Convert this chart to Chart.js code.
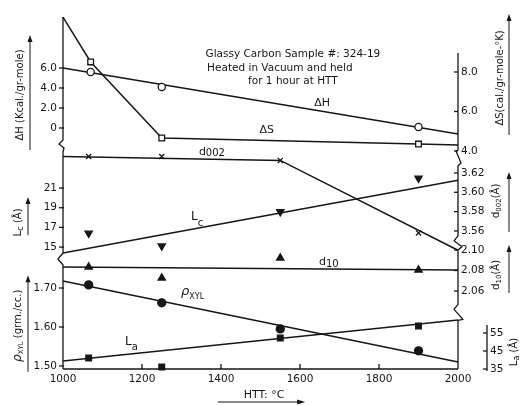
<!DOCTYPE html>
<html>
<head>
<meta charset="utf-8">
<script src="https://cdn.jsdelivr.net/npm/chart.js@4"></script>
<style>
  html, body { margin: 0; padding: 0; background: #fff; }
</style>
</head>
<body>
<canvas id="myChart" width="520" height="406"></canvas>
<script>
// heat treatment temperatures (deg C)
const htt = [1065, 1250, 1550, 1900];
const httTop = [1070, 1250, 1900];
const fitX = [1000, 2000];

// top panel: enthalpy / entropy
const dH = [5.6, 4.1, 0.1];
const dHFit = [6.0, -0.6];
const dS = [8.51, 4.66, 4.35];
const dSLineX = [1000, 1070, 1250, 1900, 2000];
const dSLine = [10.78, 8.51, 4.66, 4.35, 4.30];

// middle panel: interlayer spacing and crystallite height
const d002 = [3.637, 3.637, 3.633, 3.558];
const d002LineX = [1000, 1550, 2000];
const d002Line = [3.637, 3.633, 3.540];
const lc = [16.4, 15.1, 18.6, 22.0];
const lcFit = [14.4, 21.8];
const d10 = [2.0834, 2.0727, 2.0922, 2.0805];
const d10Fit = [2.0834, 2.0805];

// bottom panel: x-ray density and crystallite width
const rho = [1.708, 1.662, 1.595, 1.539];
const rhoFit = [1.718, 1.510];
const la = [41.1, 36.1, 52.2, 58.9];
const laFit = [39.4, 62.2];

// tick labels
const httTicks = [1000, 1200, 1400, 1600, 1800, 2000];
const dHTicks = [0, 2, 4, 6];
const dSTicks = [4, 6, 8];
const d002Ticks = [3.56, 3.58, 3.60, 3.62];
const lcTicks = [15, 17, 19, 21];
const d10Ticks = [2.06, 2.08, 2.10];
const rhoTicks = [1.50, 1.60, 1.70];
const laTicks = [35, 45, 55];

// each quantity gets its own full-height axis, min/max place it in its band
const ranges = {
  yDH: [-24.1, 11.3],
  yDS: [-7.04, 10.886],
  yD002: [3.4172, 3.7834],
  yLc: [2.6, 38.6],
  yD10: [1.9839, 2.3293],
  yRho: [1.4923, 2.4],
  yLa: [35, 231.7]
};

const ink = '#161616';
const fam = '"DejaVu Sans", sans-serif';

function pts(xs, ys) {
  return xs.map((x, i) => ({ x: x, y: ys[i] }));
}

// ticks of one band expressed on a shared 0..1 axis
function fracTicks(id, vals, fmt) {
  const lo = ranges[id][0], hi = ranges[id][1];
  return vals.map(v => ({ value: (v - lo) / (hi - lo), lbl: fmt(v) }));
}
const leftTicks = [].concat(
  fracTicks('yDH', dHTicks, v => v === 0 ? '0' : v.toFixed(1)),
  fracTicks('yLc', lcTicks, v => String(v)),
  fracTicks('yRho', rhoTicks, v => v.toFixed(2))
).sort((a, b) => a.value - b.value);
const rightTicks = [].concat(
  fracTicks('yDS', dSTicks, v => v.toFixed(1)),
  fracTicks('yD002', d002Ticks, v => v.toFixed(2)),
  fracTicks('yD10', d10Ticks, v => v.toFixed(2))
).sort((a, b) => a.value - b.value);

function lineSet(xs, ys, axis) {
  return { data: pts(xs, ys), yAxisID: axis, showLine: true, pointRadius: 0,
    borderColor: ink, borderWidth: 1.5, order: 2, clip: 8 };
}
function markSet(xs, ys, axis, style, fill, extra) {
  return Object.assign({ data: pts(xs, ys), yAxisID: axis, showLine: false,
    pointStyle: style, pointRadius: 3.6, pointBackgroundColor: fill,
    pointBorderColor: ink, pointBorderWidth: 1.3, order: 1, clip: 8 }, extra || {});
}
function hidden(id) {
  return { type: 'linear', display: false, min: ranges[id][0], max: ranges[id][1] };
}

function rich(ctx, parts, x, y, align) {
  let w = 0;
  parts.forEach(p => { ctx.font = (p[3] || '') + ' ' + p[1] + 'px ' + fam; w += ctx.measureText(p[0]).width; });
  let cx = align === 'center' ? x - w / 2 : x;
  parts.forEach(p => {
    ctx.font = (p[3] || '') + ' ' + p[1] + 'px ' + fam;
    ctx.fillText(p[0], cx, y + (p[2] || 0));
    cx += ctx.measureText(p[0]).width;
  });
}

const decor = {
  id: 'decor',
  afterDraw(chart) {
    const { ctx, chartArea: a, scales: s } = chart;
    const X = v => s.x.getPixelForValue(v);
    const P = (id, v) => s[id].getPixelForValue(v);
    const L = a.left, R = a.right;
    ctx.save();
    ctx.strokeStyle = ink;
    ctx.fillStyle = ink;
    ctx.lineWidth = 1.3;
    ctx.lineJoin = 'round';
    const poly = list => {
      ctx.beginPath();
      list.forEach((p, i) => i ? ctx.lineTo(p[0], p[1]) : ctx.moveTo(p[0], p[1]));
      ctx.stroke();
    };

    // left axis, broken twice
    const b1 = P('yDH', -1.2), b2 = P('yLc', 14.4);
    poly([[L, a.top + 2], [L, b1], [L - 4, b1 + 4], [L + 1, b1 + 8], [L, b1 + 12],
      [L, b2], [L - 5, b2 + 6], [L, b2 + 12], [L, a.bottom]]);
    // right axis pieces
    const r1 = P('yDS', 8.96), r2 = P('yDS', 4.05), r3 = P('yD002', 3.555),
      r4 = P('yD10', 2.10), r5 = P('yD10', 2.047);
    poly([[R, r1], [R, r2], [R - 2, r2 + 1], [R + 3, r2 + 13], [R, r2 + 16], [R, r3],
      [R - 4, r3 + 5], [R + 4, r3 + 11], [R, r4], [R, r5], [R - 4, r5 + 5],
      [R + 5, r5 + 15], [R, r5 + 16], [R, a.bottom]]);
    // La axis
    const lx = s.yLa.left;
    poly([[lx, P('yLa', 59.5)], [lx, a.bottom + 2]]);
    // x axis
    poly([[L, a.bottom], [R, a.bottom]]);

    // tick marks
    leftTicks.forEach(t => { const y = s.yL.getPixelForValue(t.value); poly([[L - 4, y], [L + 1, y]]); });
    rightTicks.forEach(t => { const y = s.yR.getPixelForValue(t.value); poly([[R - 4, y], [R, y]]); });
    laTicks.forEach(v => { const y = P('yLa', v); poly([[lx - 4, y], [lx, y]]); });
    httTicks.slice(1, -1).forEach(v => { const x = X(v); poly([[x, a.bottom], [x, a.bottom - 5]]); });

    ctx.textBaseline = 'middle';
    ctx.lineWidth = 1;
    const vTitle = (parts, x, y) => {
      ctx.save(); ctx.translate(x, y); ctx.rotate(-Math.PI / 2);
      rich(ctx, parts, 0, 0, 'center'); ctx.restore();
    };
    const shaft = (x, y1, y2) => {
      poly([[x, y1 + 4], [x, y2]]);
      ctx.beginPath(); ctx.moveTo(x, y1); ctx.lineTo(x - 2.5, y1 + 7); ctx.lineTo(x + 2.5, y1 + 7);
      ctx.closePath(); ctx.fill();
    };

    // axis titles, left
    vTitle([['\u0394H (Kcal./gr-mole)', 10]], L - 43, P('yDH', 3.3));
    shaft(L - 33, P('yDH', 9.3), P('yDH', -2.2));
    vTitle([['L', 10.5], ['c', 8, 3], [' (\u00c5)', 10]], L - 45, P('yLc', 17.5));
    shaft(L - 35, P('yLc', 20.1), P('yLc', 16.2));
    vTitle([['\u03c1', 12, 0, 'italic'], ['XYL', 7, 3], [' (grm./cc.)', 10]], L - 45, P('yRho', 1.603));
    shaft(L - 35, P('yRho', 1.733), P('yRho', 1.485));
    // axis titles, right
    vTitle([['\u0394S(cal./gr-mole-\u00b0K)', 10]], R + 42, P('yDS', 7.7));
    shaft(R + 51, P('yDS', 10.94), P('yDS', 4.81));
    vTitle([['d', 10.5], ['002', 7, 3], ['(\u00c5)', 10]], R + 38, P('yD002', 3.591));
    shaft(R + 51, P('yD002', 3.621), P('yD002', 3.559));
    vTitle([['d', 10.5], ['10', 7, 3], ['(\u00c5)', 10]], R + 38, P('yD10', 2.0756));
    shaft(R + 51, P('yD10', 2.105), P('yD10', 2.058));
    vTitle([['L', 10.5], ['a', 8, 3], [' (\u00c5)', 10]], R + 56, P('yLa', 44.4));

    // sample note
    rich(ctx, [['Glassy Carbon Sample #: 324-19', 10.5]], X(1582), P('yDH', 7.4), 'center');
    rich(ctx, [['Heated in Vacuum and held', 10.5]], X(1549), P('yDH', 6.0), 'center');
    rich(ctx, [['for 1 hour at HTT', 10.5]], X(1582), P('yDH', 4.7), 'center');

    // curve labels
    rich(ctx, [['\u0394H', 11]], X(1656), P('yDH', 2.5), 'center');
    rich(ctx, [['\u0394S', 11]], X(1516), P('yDS', 5.06), 'center');
    rich(ctx, [['d', 11], ['002', 10, 1]], X(1377), P('yD002', 3.6417), 'center');
    rich(ctx, [['L', 12], ['c', 10, 6]], X(1324), P('yLc', 18.05), 'left');
    rich(ctx, [['d', 11], ['10', 10, 2]], X(1648), P('yD10', 2.0883), 'left');
    rich(ctx, [['\u03c1', 13, 0, 'italic'], ['XYL', 8, 5]], X(1299), P('yRho', 1.69), 'left');
    rich(ctx, [['L', 12], ['a', 10, 5]], X(1157), P('yLa', 50), 'left');

    // x title with arrow
    rich(ctx, [['HTT: \u00b0C', 11]], X(1509), a.bottom + 26, 'center');
    const ay = a.bottom + 33, ax = X(1608);
    poly([[X(1392), ay], [ax - 4, ay]]);
    ctx.beginPath(); ctx.moveTo(ax + 2, ay); ctx.lineTo(ax - 6, ay - 2.5); ctx.lineTo(ax - 6, ay + 2.5);
    ctx.closePath(); ctx.fill();
    ctx.restore();
  }
};

const tickFont = { family: fam, size: 10.5 };

new Chart(document.getElementById('myChart').getContext('2d'), {
  type: 'scatter',
  data: {
    datasets: [
      markSet(httTop, dH, 'yDH', 'circle', '#fff'),
      markSet(httTop, dS, 'yDS', 'rect', '#fff', { pointRadius: 4 }),
      markSet(htt, d002, 'yD002', 'crossRot', ink),
      markSet(htt, lc, 'yLc', 'triangle', ink, { pointRotation: 180, pointRadius: 4.2 }),
      markSet(htt, d10, 'yD10', 'triangle', ink, { pointRadius: 4.2 }),
      markSet(htt, rho, 'yRho', 'circle', ink, { pointRadius: 4 }),
      markSet(htt, la, 'yLa', 'rect', ink, { pointRadius: 4 }),
      lineSet(fitX, dHFit, 'yDH'),
      lineSet(dSLineX, dSLine, 'yDS'),
      lineSet(d002LineX, d002Line, 'yD002'),
      lineSet(fitX, lcFit, 'yLc'),
      lineSet(fitX, d10Fit, 'yD10'),
      lineSet(fitX, rhoFit, 'yRho'),
      lineSet(fitX, laFit, 'yLa')
    ]
  },
  options: {
    responsive: false,
    animation: false,
    layout: { padding: { top: 15, left: 0, right: 0, bottom: 0 } },
    plugins: { legend: { display: false }, tooltip: { enabled: false } },
    scales: {
      x: {
        type: 'linear', position: 'bottom', min: 1000, max: 2000,
        grid: { display: false, drawTicks: false }, border: { display: false },
        ticks: { stepSize: 200, autoSkip: false, maxRotation: 0, padding: 4, color: ink, font: tickFont,
          callback: v => String(v) },
        afterBuildTicks: sc => { sc.ticks = httTicks.map(v => ({ value: v })); },
        afterFit: sc => { sc.height = 37; }
      },
      yL: {
        type: 'linear', position: 'left', min: 0, max: 1,
        grid: { display: false, drawTicks: false }, border: { display: false },
        ticks: { autoSkip: false, padding: 6, color: ink, font: tickFont, callback: (v, i, t) => t[i].lbl },
        afterBuildTicks: sc => { sc.ticks = leftTicks.map(t => ({ value: t.value, lbl: t.lbl })); },
        afterFit: sc => { sc.width = 63; }
      },
      yR: {
        type: 'linear', position: 'right', weight: 0, min: 0, max: 1,
        grid: { display: false, drawTicks: false }, border: { display: false },
        ticks: { autoSkip: false, padding: 3, color: ink, font: tickFont, callback: (v, i, t) => t[i].lbl },
        afterBuildTicks: sc => { sc.ticks = rightTicks.map(t => ({ value: t.value, lbl: t.lbl })); },
        afterFit: sc => { sc.width = 29; }
      },
      yLa: {
        type: 'linear', position: 'right', weight: 1, min: ranges.yLa[0], max: ranges.yLa[1],
        grid: { display: false, drawTicks: false }, border: { display: false },
        ticks: { autoSkip: false, padding: 3, color: ink, font: tickFont },
        afterBuildTicks: sc => { sc.ticks = laTicks.map(v => ({ value: v })); },
        afterFit: sc => { sc.width = 33; }
      },
      yDH: hidden('yDH'),
      yDS: hidden('yDS'),
      yD002: hidden('yD002'),
      yLc: hidden('yLc'),
      yD10: hidden('yD10'),
      yRho: hidden('yRho')
    }
  },
  plugins: [decor]
});
</script>
</body>
</html>
